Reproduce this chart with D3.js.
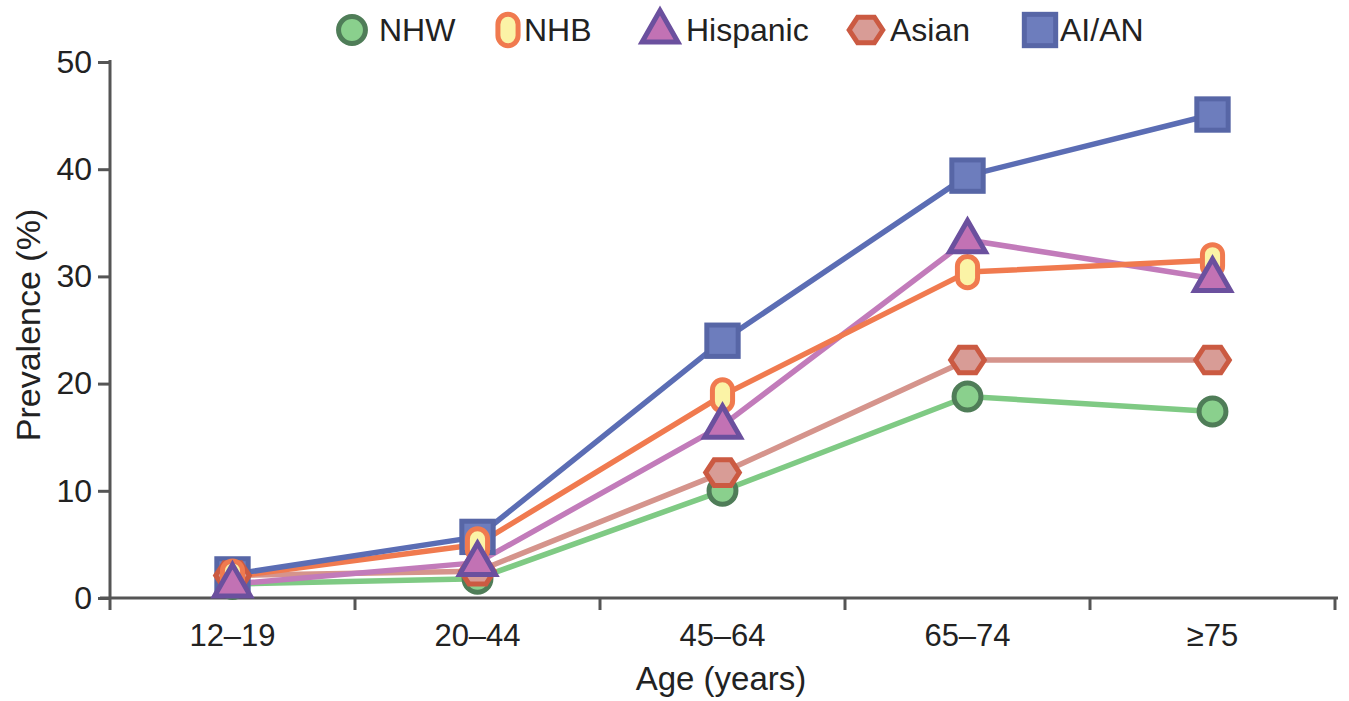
<!DOCTYPE html>
<html><head><meta charset="utf-8">
<script src="https://cdn.jsdelivr.net/npm/d3@7"></script>
<style>body{margin:0;background:#fff;} text{font-family:"Liberation Sans",Arial,sans-serif;fill:#222;}</style>
</head><body>
<svg id="chart" width="1349" height="701"></svg>
<script>
const categories = ["12\u201319","20\u201344","45\u201364","65\u201374","\u226575"];
const seriesNames = ["NHW","NHB","Hispanic","Asian","AI/AN"];
const nhw      = [1.3, 1.8, 10.0, 18.8, 17.4];
const nhb      = [2.0, 5.0, 18.9, 30.4, 31.5];
const hispanic = [1.3, 3.3, 16.1, 33.4, 29.8];
const asian    = [2.1, 2.5, 11.7, 22.2, 22.2];
const aian     = [2.2, 5.7, 24.0, 39.4, 45.1];
const yTicks   = [0, 10, 20, 30, 40, 50];

const styles = {
  "NHW":      {line:"#7fca84", stroke:"#4f7d58", fill:"#8ad08d", shape:"circle"},
  "NHB":      {line:"#f07a4f", stroke:"#f07a4f", fill:"#fbf3a6", shape:"pill"},
  "Hispanic": {line:"#c27bba", stroke:"#6b509e", fill:"#c272b4", shape:"triangle"},
  "Asian":    {line:"#d5948c", stroke:"#cb5a42", fill:"#d89c96", shape:"hexagon"},
  "AI/AN":    {line:"#5b6db4", stroke:"#5766a6", fill:"#6d7dbd", shape:"square"}
};
const dataMap = {"NHW":nhw,"NHB":nhb,"Hispanic":hispanic,"Asian":asian,"AI/AN":aian};
const lineOrder = ["NHW","Asian","Hispanic","NHB","AI/AN"];
const markerOrder = ["NHW","AI/AN","Asian","NHB","Hispanic"];

const svg = d3.select("#chart");
const x = d3.scaleBand().domain(categories).range([110,1335]);
const y = d3.scaleLinear().domain([0,50]).range([598,62]);
const axisColor = "#555";

// y axis
const yAxis = svg.append("g").attr("transform","translate(110,0)")
  .call(d3.axisLeft(y).tickValues(yTicks).tickSize(12).tickPadding(6));
yAxis.select(".domain").remove();
yAxis.selectAll(".tick line").attr("stroke",axisColor).attr("stroke-width",3);
yAxis.selectAll(".tick text").attr("font-size",32).attr("fill","#222")
  .style("font-family","Liberation Sans, Arial, sans-serif");
svg.append("line").attr("x1",110).attr("x2",110).attr("y1",60).attr("y2",610)
  .attr("stroke",axisColor).attr("stroke-width",3);

// x axis
svg.append("line").attr("x1",100).attr("x2",1338).attr("y1",598).attr("y2",598)
  .attr("stroke",axisColor).attr("stroke-width",3);
const bounds = categories.map(c=>x(c)).concat([x.range()[1]]).slice(1);
svg.selectAll(".xtick").data(bounds).join("line")
  .attr("x1",d=>d).attr("x2",d=>d).attr("y1",598).attr("y2",610)
  .attr("stroke",axisColor).attr("stroke-width",3);
svg.selectAll(".xlab").data(categories).join("text")
  .attr("x",d=>x(d)+x.bandwidth()/2).attr("y",646).attr("text-anchor","middle")
  .attr("font-size",31).text(d=>d);

svg.append("text").attr("x",721).attr("y",690).attr("text-anchor","middle")
  .attr("font-size",33).text("Age (years)");
svg.append("text").attr("transform","translate(40,325) rotate(-90)")
  .attr("text-anchor","middle").attr("font-size",34).text("Prevalence (%)");

const cx = c => x(c)+x.bandwidth()/2;
const line = d3.line().x((d,i)=>cx(categories[i])).y(d=>y(d));

lineOrder.forEach(s=>{
  svg.append("path").datum(dataMap[s]).attr("d",line)
    .attr("fill","none").attr("stroke",styles[s].line).attr("stroke-width",5.5)
    .attr("stroke-linejoin","round");
});

function drawMarker(g, s, px, py, scale){
  const st = styles[s]; const k = scale||1;
  let el;
  switch(st.shape){
    case "circle":
      el = g.append("circle").attr("cx",px).attr("cy",py).attr("r",12*k); break;
    case "pill":
      el = g.append("rect").attr("x",px-9*k).attr("y",py-14*k).attr("width",18*k).attr("height",28*k)
        .attr("rx",9*k).attr("ry",9*k); break;
    case "triangle": {
      const h=28*k, w=32*k;
      el = g.append("path").attr("d",`M${px},${py-h*0.62}L${px+w/2},${py+h*0.38}L${px-w/2},${py+h*0.38}Z`); break; }
    case "hexagon": {
      const r=15*k;
      const pts = d3.range(6).map(i=>{const a=Math.PI/3*i; return [px+r*Math.cos(a), py+r*0.88*Math.sin(a)];});
      el = g.append("path").attr("d","M"+pts.join("L")+"Z"); break; }
    case "square":
      el = g.append("rect").attr("x",px-14*k).attr("y",py-14*k).attr("width",28*k).attr("height",28*k); break;
  }
  el.attr("fill",st.fill).attr("stroke",st.stroke).attr("stroke-width",5).attr("stroke-linejoin","miter");
}

const mk = 1.12;
markerOrder.forEach(s=>{
  const g = svg.append("g");
  dataMap[s].forEach((v,i)=> drawMarker(g, s, cx(categories[i]), y(v), mk));
});

// legend
const legendX = [352, 508, 660, 866, 1040];
const legendTextX = [379, 524, 686, 890, 1060];
seriesNames.forEach((s,i)=>{
  const g = svg.append("g");
  drawMarker(g, s, legendX[i], 30, mk);
  g.append("text").attr("x",legendTextX[i]).attr("y",41).attr("font-size",32).text(s);
});
</script>
</body></html>
